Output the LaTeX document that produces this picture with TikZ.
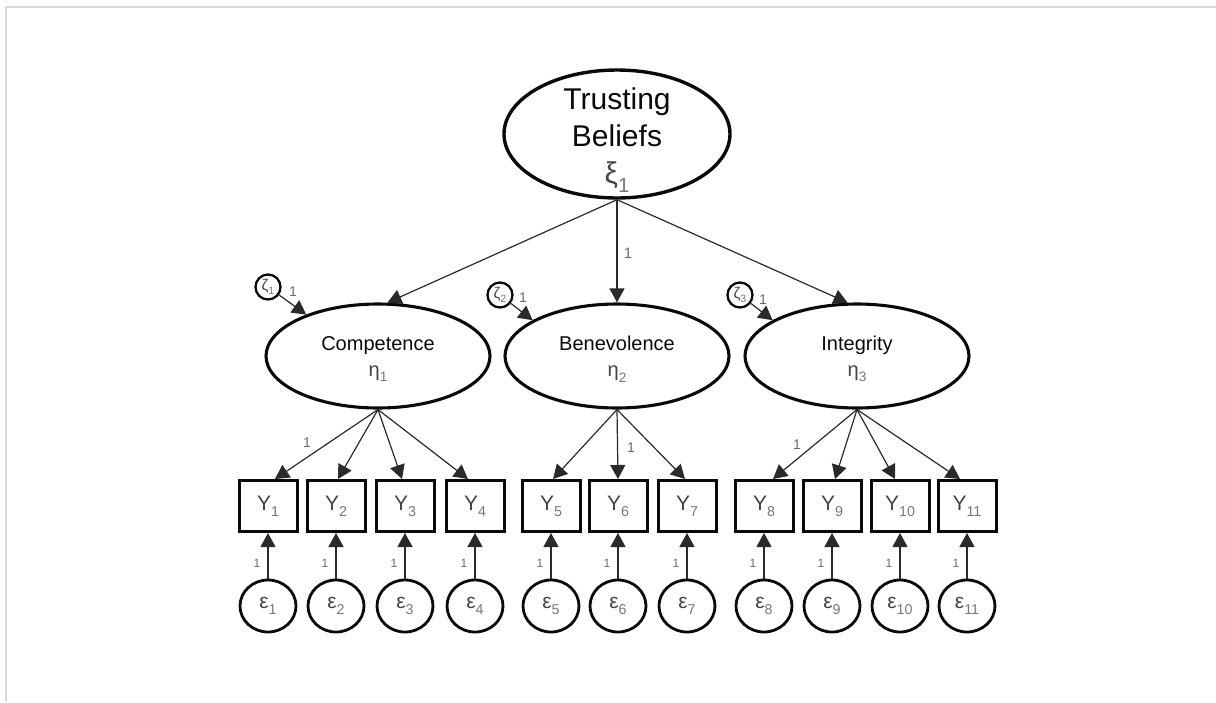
\documentclass[tikz,border=0pt]{standalone}
\usepackage{fontspec}
\setmainfont{Liberation Sans}
\usetikzlibrary{shapes.geometric,arrows.meta,calc}

\definecolor{framegray}{HTML}{D9D9D9}
\definecolor{linegray}{HTML}{2A2A2A}
\definecolor{inkblack}{HTML}{0A0A0A}
\definecolor{symgray}{HTML}{444444}
\definecolor{subgray}{HTML}{777777}
\definecolor{numgray}{HTML}{6A6A6A}

% lowered, smaller index in lighter grey
\newcommand{\lowix}[1]{\raisebox{-0.28em}{\scalebox{0.68}{\color{subgray}#1}}}

\begin{document}
\begin{tikzpicture}[x=1pt,y=-1pt,
  latentbig/.style={ellipse, draw=inkblack, line width=3.4pt, inner sep=0pt,
    minimum width=226pt, minimum height=128pt},
  bigtext/.style={align=center, inner sep=0pt,
    font=\fontsize{30}{37}\selectfont, text=inkblack},
  latent/.style={ellipse, draw=inkblack, line width=3.1pt, inner sep=0pt,
    minimum width=224pt, minimum height=104pt},
  midtext/.style={align=center, inner sep=0pt,
    font=\fontsize{20}{26}\selectfont, text=inkblack},
  obsbox/.style={rectangle, draw=inkblack, line width=3pt, inner sep=0pt,
    minimum width=58pt, minimum height=51pt,
    font=\fontsize{21}{24}\selectfont, text=symgray},
  errnode/.style={ellipse, draw=inkblack, line width=2.8pt, inner sep=0pt,
    minimum width=56pt, minimum height=52pt,
    font=\fontsize{21}{24}\selectfont, text=symgray},
  distnode/.style={circle, draw=inkblack, line width=2.3pt, inner sep=0pt,
    minimum size=25pt, font=\fontsize{15.5}{16}\selectfont, text=symgray},
  pathline/.style={draw=linegray, line width=1.2pt,
    -{Triangle[length=14pt,width=15pt]}},
  numbig/.style={font=\fontsize{15}{16}\selectfont, text=numgray, inner sep=0pt},
  nummid/.style={font=\fontsize{14}{15}\selectfont, text=numgray, inner sep=0pt},
  numsmall/.style={font=\fontsize{12}{13}\selectfont, text=numgray, inner sep=0pt}
]
\useasboundingbox (0,0) rectangle (1216,702);

% page frame
\draw[framegray, line width=2.2pt] (6,702) -- (6,7) -- (1216,7);

% second-order factor
\node[latentbig] (tb) at (617,134) {};
\node[bigtext] (tbtext) at ([yshift=-6pt]tb.center) {Trusting\\Beliefs\\{\color{symgray}ξ}\lowix{1}};

% first-order factors
\node[latent] (comp) at (378,356) {};
\node[latent] (bene) at (617,356) {};
\node[latent] (inte) at (857,356) {};
\node[midtext] (comptext) at ([yshift=-3pt]comp.center) {Competence\\{\color{symgray}η}\lowix{1}};
\node[midtext] (benetext) at ([yshift=-3pt]bene.center) {Benevolence\\{\color{symgray}η}\lowix{2}};
\node[midtext] (intetext) at ([yshift=-3pt]inte.center) {Integrity\\{\color{symgray}η}\lowix{3}};

% disturbances
\node[distnode] (z1) at (268,287) {ζ\lowix{1}};
\node[distnode] (z2) at (500,295) {ζ\lowix{2}};
\node[distnode] (z3) at (740,295) {ζ\lowix{3}};

% indicators and their errors
\foreach \i/\x in {1/268,2/336,3/405,4/475,5/551,6/618,7/687,8/764,9/832,10/900,11/967}{
  \node[obsbox] (y\i) at (\x,506) {Y\lowix{\i}};
  \node[errnode] (e\i) at (\x,606) {ε\lowix{\i}};
  \draw[pathline] (e\i) -- (y\i);
  \node[numsmall] (n\i) at ({\x-11},563) {1};
}

% structural paths
\draw[pathline] (tb.south) -- (comp.80);
\draw[pathline] (tb.south) -- (bene.north);
\draw[pathline] (tb.south) -- (inte.100);
\node[numbig] (ltop) at (628,253) {1};

\draw[pathline] (z1) -- (comp.150);
\draw[pathline] (z2) -- (bene.157);
\draw[pathline] (z3) -- (inte.157);
\node[nummid] (lz1) at (293,292) {1};
\node[nummid] (lz2) at (523,298) {1};
\node[nummid] (lz3) at (763,300) {1};

% measurement paths
\foreach \i/\s in {1/7,2/2,3/-3,4/-7}
  \draw[pathline] (comp.south) -- ([xshift=\s pt]y\i.north);
\foreach \i/\s in {5/2,6/0,7/-2}
  \draw[pathline] (bene.south) -- ([xshift=\s pt]y\i.north);
\foreach \i/\s in {8/9,9/3,10/-5,11/-7}
  \draw[pathline] (inte.south) -- ([xshift=\s pt]y\i.north);
\node[nummid] (lf1) at (307,443) {1};
\node[nummid] (lf6) at (631,448) {1};
\node[nummid] (lf8) at (797,445) {1};

\end{tikzpicture}
\end{document}
